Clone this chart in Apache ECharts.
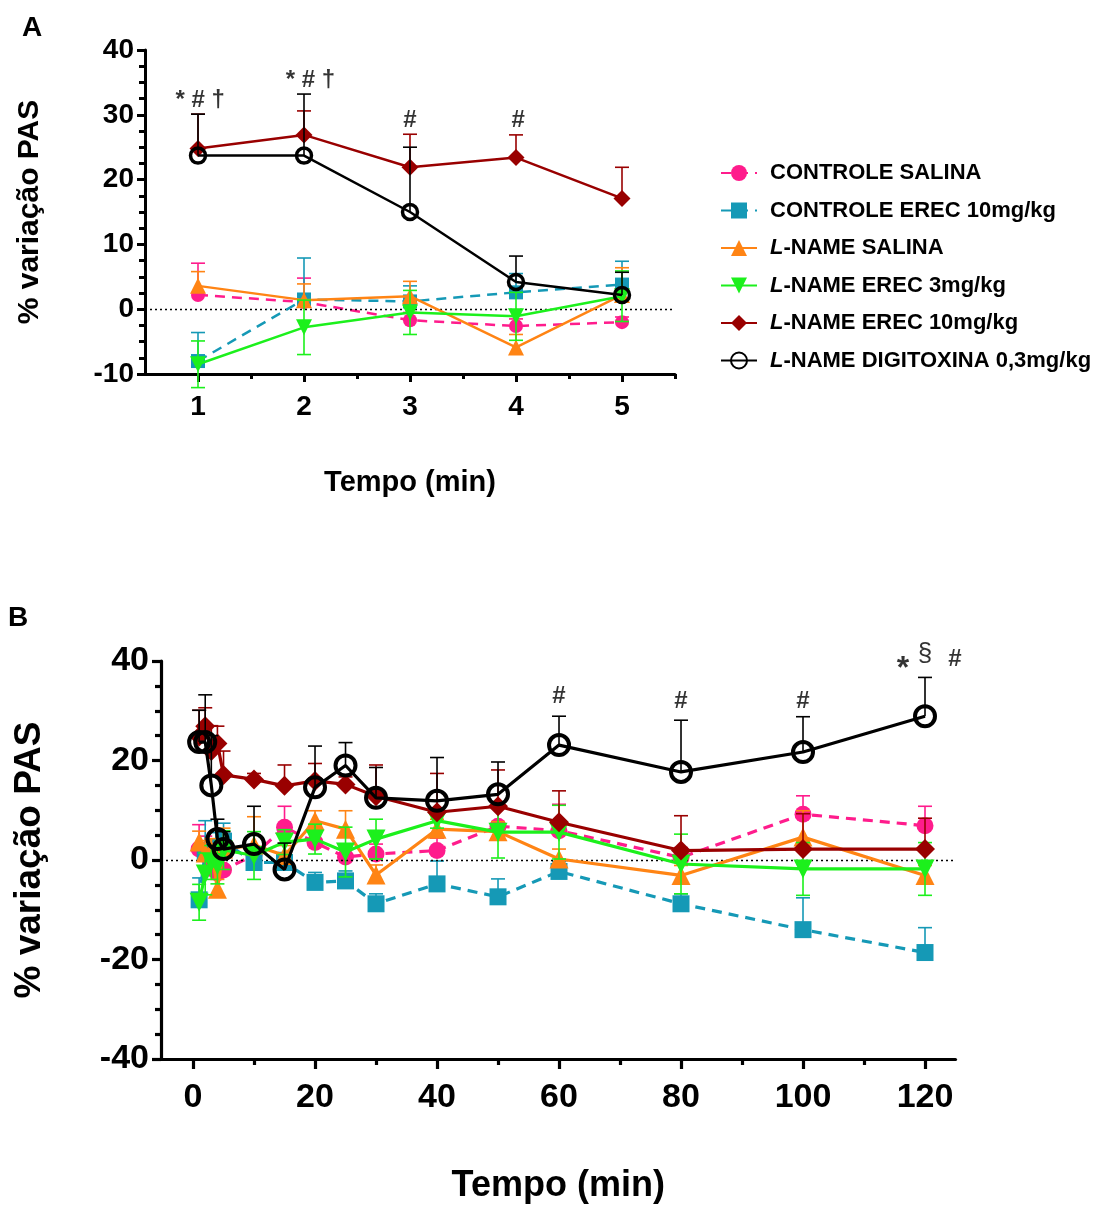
<!DOCTYPE html>
<html>
<head>
<meta charset="utf-8">
<script src="https://cdn.jsdelivr.net/npm/echarts@6/dist/echarts.min.js"></script>
<style>
  html, body { margin: 0; padding: 0; background: #fff; }
  #grafico { width: 1096px; height: 1205px; }
</style>
</head>
<body>
<div id="grafico"></div>
<script>
// tempos (min) do painel B; o painel A usa os 5 primeiros
var tempos = [1, 2, 3, 4, 5, 10, 15, 20, 25, 30, 40, 50, 60, 80, 100, 120];

// médias (% variação PAS) e EPM
var controleSalina     = [2.2, 1.1, -1.7, -2.6, -2.0, 1.0, 6.6, 3.5, 0.6, 1.2, 1.9, 6.8, 5.9, 0.5, 9.2, 6.9];
var controleSalinaEpm  = [4.9, 3.7, 1.2, 1.1, 0.8, 1.5, 4.2, 2.5, 2.0, 2.0, 2.5, 4.6, 5.3, 2.0, 3.7, 3.9];
var controleErec       = [-8.0, 1.5, 1.2, 2.6, 3.8, -0.5, -0.5, -4.5, -4.2, -8.8, -4.8, -7.4, -2.3, -8.8, -14.0, -18.6];
var controleErecEpm    = [4.4, 6.4, 2.4, 2.9, 3.6, 2.0, 2.0, 2.0, 2.0, 2.0, 4.6, 3.6, 2.0, 2.0, 6.4, 5.0];
var lnameSalina        = [3.6, 1.4, 2.0, -5.9, 2.2, 3.0, 0.9, 7.9, 6.2, -3.0, 6.2, 5.7, 0.2, -3.1, 4.6, -3.1];
var lnameSalinaEpm     = [2.2, 2.5, 2.3, 2.0, 4.2, 5.7, 2.0, 2.0, 3.7, 2.0, 2.0, 2.0, 2.0, 2.0, 5.3, 2.0];
var lnameErec3         = [-8.5, -2.8, -0.5, -1.1, 2.0, 0.9, 3.6, 4.2, 1.6, 4.2, 7.9, 5.6, 5.6, -0.8, -1.8, -1.8];
var lnameErec3Epm      = [3.6, 4.2, 3.4, 3.7, 3.9, 4.8, 2.5, 3.0, 5.0, 4.0, 1.5, 5.2, 5.4, 6.0, 5.3, 5.3];
var lnameErec10        = [24.8, 26.9, 21.9, 23.4, 17.1, 16.2, 14.9, 15.9, 15.2, 12.8, 9.6, 10.8, 7.6, 1.9, 2.2, 2.2];
var lnameErec10Epm     = [5.3, 3.7, 5.1, 3.5, 4.8, 1.2, 4.2, 3.5, 1.5, 6.3, 7.8, 7.3, 6.3, 7.0, 7.1, 6.2];
var lnameDigitoxina    = [23.7, 23.7, 15.0, 4.2, 2.2, 3.2, -1.9, 14.6, 19.0, 12.5, 11.9, 13.2, 23.1, 17.7, 21.7, 28.9];
var lnameDigitoxinaEpm = [6.4, 9.5, 10.0, 4.0, 3.5, 7.6, 5.3, 8.3, 4.6, 6.1, 8.7, 6.5, 5.8, 10.4, 7.1, 7.8];

// marcas de significância: [tempo, % variação, texto]
var marcasA = [[1.02, 32.3, '* # †'], [2.06, 35.3, '* # †'], [3.0, 29.2, '#'], [4.02, 29.2, '#']];
var marcasB = [[60, 32.8, '#'], [80, 31.8, '#'], [100, 31.8, '#'], [124.9, 40.4, '#']];
var marcasBAst = [[116.4, 38.3, '*']];
var marcasBPar = [[120, 41.4, '§']];

var fonte = 'Arial, "Liberation Sans", sans-serif';

var grupos = [
  { nome: 'CONTROLE SALINA', media: controleSalina, epm: controleSalinaEpm, cor: '#ff1c8c',
    simbolo: 'circle', tamA: 14, tamB: 17, tracejado: true },
  { nome: 'CONTROLE EREC 10mg/kg', media: controleErec, epm: controleErecEpm, cor: '#1599b6',
    simbolo: 'rect', tamA: 14, tamB: 17, tracejado: true },
  { nome: 'L-NAME SALINA', media: lnameSalina, epm: lnameSalinaEpm, cor: '#ff8414',
    simbolo: 'triangle', tamA: 16, tamB: 19 },
  { nome: 'L-NAME EREC 3mg/kg', media: lnameErec3, epm: lnameErec3Epm, cor: '#1cf01c',
    simbolo: 'triangle', rot: 180, tamA: 16, tamB: 19, ambos: true },
  { nome: 'L-NAME EREC 10mg/kg', media: lnameErec10, epm: lnameErec10Epm, cor: '#990000',
    simbolo: 'diamond', tamA: 17, tamB: 20 },
  { nome: 'L-NAME DIGITOXINA 0,3mg/kg', media: lnameDigitoxina, epm: lnameDigitoxinaEpm, cor: '#000000',
    simbolo: 'circle', tamA: 15, tamB: 20, vazado: true }
];

function desenhaErro(params, api) {
  var x = api.value(0), lo = api.value(1), hi = api.value(2), ambos = api.value(3);
  var pLo = api.coord([x, lo]);
  var pHi = api.coord([x, hi]);
  var w = 7;
  var estilo = { stroke: api.visual('color'), lineWidth: 1.6 };
  var filhos = [
    { type: 'line', shape: { x1: pLo[0], y1: pLo[1], x2: pHi[0], y2: pHi[1] }, style: estilo },
    { type: 'line', shape: { x1: pHi[0] - w, y1: pHi[1], x2: pHi[0] + w, y2: pHi[1] }, style: estilo }
  ];
  if (ambos) {
    filhos.push({ type: 'line', shape: { x1: pLo[0] - w, y1: pLo[1], x2: pLo[0] + w, y2: pLo[1] }, style: estilo });
  }
  return { type: 'group', children: filhos };
}

var series = [];
[0, 1].forEach(function (painel) {
  var n = painel === 0 ? 5 : tempos.length;
  grupos.forEach(function (g, k) {
    var pts = [], erros = [];
    for (var i = 0; i < n; i++) {
      pts.push([tempos[i], g.media[i]]);
      erros.push([tempos[i], g.ambos ? g.media[i] - g.epm[i] : g.media[i], g.media[i] + g.epm[i], g.ambos ? 1 : 0]);
    }
    series.push({
      type: 'custom', xAxisIndex: painel, yAxisIndex: painel, renderItem: desenhaErro,
      itemStyle: { color: g.cor }, data: erros, z: 2 + k * 2, silent: true
    });
    var s = {
      name: g.nome, type: 'line', xAxisIndex: painel, yAxisIndex: painel, data: pts,
      symbol: g.simbolo, symbolRotate: g.rot || 0,
      symbolSize: painel === 0 ? g.tamA : g.tamB,
      lineStyle: { color: g.cor, width: painel === 0 ? 2.5 : 3.2, type: g.tracejado ? [10, 7] : 'solid' },
      itemStyle: g.vazado
        ? { color: 'rgba(0,0,0,0)', borderColor: g.cor, borderWidth: painel === 0 ? 3.5 : 4 }
        : { color: g.cor, borderWidth: 0 },
      emphasis: { disabled: true },
      z: 3 + k * 2, animation: false
    };
    if (k === 0) {
      s.markLine = {
        silent: true, symbol: 'none', label: { show: false }, animation: false,
        lineStyle: { color: '#000', type: [2, 3], width: 1.3 },
        data: [{ yAxis: 0 }]
      };
    }
    series.push(s);
  });
});

function marcas(dados, painel, tam, peso) {
  return {
    type: 'scatter', xAxisIndex: painel, yAxisIndex: painel, data: dados, clip: false,
    symbolSize: 1, itemStyle: { color: 'rgba(0,0,0,0)' }, silent: true, z: 20,
    label: {
      show: true, position: 'inside', color: '#000', fontFamily: fonte,
      fontSize: tam, fontWeight: peso,
      formatter: function (p) { return p.data[2]; }
    },
    labelLayout: { hideOverlap: false }
  };
}
series.push(marcas(marcasA, 0, 24, 'bold'));
series.push(marcas(marcasB, 1, 24, 'bold'));
series.push(marcas(marcasBAst, 1, 32, 'bold'));
series.push(marcas(marcasBPar, 1, 26, 'normal'));

// eixo principal (linha + rótulos) e dois eixos só de marcas: longas e curtas
function eixoX(painel, min, max, rotulos, secundarios, cfg) {
  var marcas = function (valores, comp) {
    return {
      type: 'value', gridIndex: painel, min: min, max: max, position: 'bottom',
      axisLine: { show: false, onZero: false },
      axisTick: { show: true, customValues: valores, length: comp, lineStyle: { color: '#000', width: cfg.lw } },
      axisLabel: { show: false }, splitLine: { show: false }
    };
  };
  return [{
    type: 'value', gridIndex: painel, min: min, max: max,
    axisLine: { show: true, onZero: false, lineStyle: { color: '#000', width: cfg.lw } },
    axisTick: { show: false },
    axisLabel: { customValues: rotulos, margin: cfg.margem, color: '#000', fontFamily: fonte,
                 fontWeight: 'bold', fontSize: cfg.fs },
    splitLine: { show: false },
    name: 'Tempo (min)', nameLocation: 'middle', nameGap: cfg.gap,
    nameTextStyle: { color: '#000', fontFamily: fonte, fontWeight: 'bold', fontSize: cfg.nfs }
  }, marcas(rotulos, cfg.tick), marcas(secundarios, cfg.tick2)];
}

function eixoY(painel, min, max, intervalo, cfg) {
  return {
    type: 'value', gridIndex: painel, min: min, max: max, interval: intervalo,
    axisLine: { show: true, onZero: false, lineStyle: { color: '#000', width: cfg.lw } },
    axisTick: { show: true, length: cfg.tick, lineStyle: { color: '#000', width: cfg.lw } },
    minorTick: { show: true, splitNumber: 4, length: cfg.tick2, lineStyle: { color: '#000', width: cfg.lw } },
    axisLabel: { margin: cfg.margem, color: '#000', fontFamily: fonte, fontWeight: 'bold', fontSize: cfg.fs },
    splitLine: { show: false }, minorSplitLine: { show: false },
    name: '% variação PAS', nameLocation: 'middle', nameGap: cfg.gap,
    nameTextStyle: { color: '#000', fontFamily: fonte, fontWeight: 'bold', fontSize: cfg.nfs }
  };
}

var xA = eixoX(0, 0.5, 5.5, [1, 2, 3, 4, 5], [1.5, 2.5, 3.5, 4.5, 5.5],
  { lw: 3, tick: 8, tick2: 5, margem: 19, fs: 28, gap: 94, nfs: 29 });
var xB = eixoX(1, -5.25, 125, [0, 20, 40, 60, 80, 100, 120], [10, 30, 50, 70, 90, 110],
  { lw: 3.2, tick: 10, tick2: 6, margem: 22, fs: 34, gap: 109, nfs: 36 });

var option = {
  backgroundColor: '#fff',
  animation: false,
  grid: [
    { left: 145, top: 50, width: 530, height: 324 },
    { left: 161, top: 661, width: 794.5, height: 400 }
  ],
  xAxis: [xA[0], xB[0], xA[1], xA[2], xB[1], xB[2]],
  yAxis: [
    eixoY(0, -10, 40, 10, { lw: 3, tick: 8, tick2: 6, margem: 11, fs: 28, gap: 100, nfs: 30 }),
    eixoY(1, -40, 40, 20, { lw: 3.2, tick: 9, tick2: 6, margem: 12, fs: 34, gap: 113, nfs: 37 })
  ],
  legend: {
    orient: 'vertical', left: 715, top: 157, itemWidth: 36, itemHeight: 20, itemGap: 15.5,
    data: grupos.map(function (g) { return g.nome; }),
    selectedMode: false,
    formatter: function (nome) {
      if (nome.indexOf('L-') === 0) return '{s|}{i|L}{b|' + nome.slice(1) + '}';
      return '{s|}{b|' + nome + '}';
    },
    textStyle: {
      color: '#000', fontFamily: fonte, fontSize: 22, fontWeight: 'bold', lineHeight: 20,
      rich: {
        s: { width: 8 },
        i: { fontStyle: 'italic', fontWeight: 'bold', fontSize: 22, fontFamily: fonte, color: '#000' },
        b: { fontWeight: 'bold', fontSize: 22, fontFamily: fonte, color: '#000' }
      }
    }
  },
  graphic: [
    { type: 'text', left: 22, top: 14, style: { text: 'A', font: 'bold 28px ' + fonte, fill: '#000' } },
    { type: 'text', left: 8, top: 604, style: { text: 'B', font: 'bold 28px ' + fonte, fill: '#000' } }
  ],
  series: series
};

var grafico = echarts.init(document.getElementById('grafico'));
grafico.setOption(option);
</script>
</body>
</html>
